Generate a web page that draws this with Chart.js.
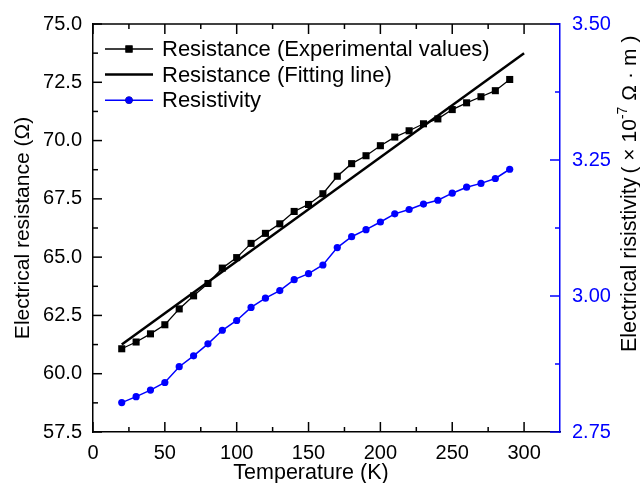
<!DOCTYPE html>
<html>
<head>
<meta charset="utf-8">
<script src="https://cdn.jsdelivr.net/npm/chart.js@4.4.0/dist/chart.umd.min.js"></script>
<style>
  html, body { margin: 0; padding: 0; background: #fff; }
</style>
</head>
<body>
<canvas id="resChart" width="640" height="483"></canvas>
<script>
const temperatures = [20, 30, 40, 50, 60, 70, 80, 90, 100, 110, 120, 130, 140, 150,
    160, 170, 180, 190, 200, 210, 220, 230, 240, 250, 260, 270, 280, 290];
const resistance = [61.07, 61.36, 61.71, 62.10, 62.78, 63.34, 63.87, 64.53, 64.98, 65.59,
    66.02, 66.43, 66.96, 67.26, 67.72, 68.47, 69.01, 69.35, 69.78, 70.15,
    70.42, 70.72, 70.93, 71.33, 71.62, 71.88, 72.14, 72.62];
const resistivity = [2.804, 2.815, 2.827, 2.841, 2.870, 2.890, 2.912, 2.937, 2.955, 2.979,
    2.996, 3.010, 3.030, 3.041, 3.057, 3.089, 3.109, 3.122, 3.136, 3.151,
    3.159, 3.169, 3.176, 3.189, 3.200, 3.207, 3.216, 3.233];
const fitTemps = [20, 300];
const fitResistance = [61.25, 73.75];

const xTicks = [0, 50, 100, 150, 200, 250, 300];
const yTicks = [57.5, 60.0, 62.5, 65.0, 67.5, 70.0, 72.5, 75.0];
const y1Ticks = [2.75, 3.00, 3.25, 3.50];

const xTitle = "Temperature (K)";
const yTitle = "Electrical resistance (\u03a9)";
const y1Title = "Electrical risistivity ";
const y1Unit = ["(", "\u00d7", "1", "0", "-7", "\u03a9", "\u00b7", "m", ")"];

const FONT = "Arial, 'Liberation Sans', sans-serif";
const BLUE = "#0000ff";

Chart.defaults.color = "#000";
Chart.defaults.font.family = FONT;

const toPoints = (xs, ys) => xs.map((x, i) => ({ x: x, y: ys[i] }));
const setTicks = (list) => (scale) => { scale.ticks = list.map(v => ({ value: v })); };

// inward tick marks, top frame line, legend and the axis titles drawn by hand
const frame = {
    id: "frame",
    afterDraw(chart) {
        const { ctx, chartArea: a, scales } = chart;
        const sx = scales.x, sy = scales.y, sy1 = scales.y1;
        ctx.save();
        ctx.lineWidth = 1.5;

        const seg = (x1, y1, x2, y2, color) => {
            ctx.strokeStyle = color;
            ctx.beginPath();
            ctx.moveTo(x1, y1);
            ctx.lineTo(x2, y2);
            ctx.stroke();
        };
        const withMinor = (list, max) => {
            const step = list[1] - list[0];
            const out = [];
            list.forEach(v => {
                out.push([v, true]);
                if (v + step / 2 < max - 1e-9) out.push([v + step / 2, false]);
            });
            return out;
        };

        seg(a.left, a.top, a.right, a.top, "#000");

        withMinor(xTicks, sx.max).forEach(([v, major]) => {
            const px = sx.getPixelForValue(v);
            const len = major ? 10 : 5;
            seg(px, a.bottom, px, a.bottom - len, "#000");
            seg(px, a.top, px, a.top + len, "#000");
        });
        withMinor(yTicks, sy.max).forEach(([v, major]) => {
            const py = sy.getPixelForValue(v);
            seg(a.left, py, a.left + (major ? 9 : 5), py, "#000");
        });
        withMinor(y1Ticks, sy1.max).forEach(([v, major]) => {
            const py = sy1.getPixelForValue(v);
            seg(a.right, py, a.right - (major ? 10 : 5), py, BLUE);
        });

        // legend
        ctx.textBaseline = "middle";
        ctx.textAlign = "left";
        chart.data.datasets.forEach((ds, i) => {
            const yy = a.top + 25 + i * 25.6;
            const x0 = a.left + 12, x1 = x0 + 48;
            ctx.lineWidth = ds.borderWidth;
            seg(x0, yy, x1, yy, ds.borderColor);
            if (ds.pointRadius > 0) {
                Chart.helpers.drawPoint(ctx, {
                    pointStyle: ds.pointStyle, radius: ds.pointRadius, rotation: 0, borderWidth: 0
                }, (x0 + x1) / 2, yy);
                ctx.fillStyle = ds.pointBackgroundColor;
                ctx.fill();
            }
            ctx.fillStyle = "#000";
            ctx.font = "22px " + FONT;
            ctx.fillText(ds.label, x1 + 9, yy + 1);
        });

        // x title, a little left of the axis centre as in the original
        ctx.fillStyle = "#000";
        ctx.textAlign = "center";
        ctx.font = "21.5px " + FONT;
        ctx.fillText(xTitle, 311, 473);

        // right axis title, reading bottom to top, unit spread out wide
        ctx.textAlign = "left";
        ctx.translate(630, 352);
        ctx.rotate(-Math.PI / 2);
        ctx.font = "21.5px " + FONT;
        ctx.fillText(y1Title, 0, 0);
        let t = ctx.measureText(y1Title).width - 2;
        const unitLen = 150;
        const fonts = y1Unit.map(c => c === "-7" ? "14px " + FONT : "21px " + FONT);
        let natural = 0;
        y1Unit.forEach((c, i) => { ctx.font = fonts[i]; natural += ctx.measureText(c).width; });
        const gap = (unitLen - natural) / (y1Unit.length - 1);
        y1Unit.forEach((c, i) => {
            ctx.font = fonts[i];
            const dy = c === "-7" ? -7 : 0;
            ctx.fillText(c, t, dy);
            t += ctx.measureText(c).width + (c === "1" || c === "0" ? 0 : gap);
        });
        ctx.restore();
    }
};

new Chart(document.getElementById("resChart"), {
    type: "line",
    data: {
        datasets: [
            {
                label: "Resistance (Experimental values)",
                data: toPoints(temperatures, resistance),
                yAxisID: "y",
                borderColor: "#000",
                borderWidth: 1.3,
                pointStyle: "rect",
                pointRadius: 5,
                pointBackgroundColor: "#000",
                pointBorderWidth: 0
            },
            {
                label: "Resistance (Fitting line)",
                data: toPoints(fitTemps, fitResistance),
                yAxisID: "y",
                borderColor: "#000",
                borderWidth: 2.5,
                pointRadius: 0
            },
            {
                label: "Resistivity",
                data: toPoints(temperatures, resistivity),
                yAxisID: "y1",
                borderColor: BLUE,
                borderWidth: 1.5,
                pointStyle: "circle",
                pointRadius: 3.6,
                pointBackgroundColor: BLUE,
                pointBorderWidth: 0
            }
        ]
    },
    options: {
        responsive: false,
        animation: false,
        layout: { padding: { top: 22, left: 0, right: 0, bottom: 0 } },
        plugins: {
            legend: { display: false },
            tooltip: { enabled: false }
        },
        scales: {
            x: {
                type: "linear",
                min: 0,
                max: 325,
                grid: { display: false, drawTicks: false },
                border: { display: true, color: "#000", width: 1.5 },
                afterBuildTicks: setTicks(xTicks),
                afterFit: (s) => { s.height = 51; },
                ticks: { padding: 9, font: { size: 20 }, callback: (v) => String(v) }
            },
            y: {
                position: "left",
                min: 57.5,
                max: 75,
                grid: { display: false, drawTicks: false },
                border: { display: true, color: "#000", width: 1.5 },
                afterBuildTicks: setTicks(yTicks),
                afterFit: (s) => { s.width = 93; },
                ticks: { padding: 11, font: { size: 20 }, callback: (v) => v.toFixed(1) },
                title: {
                    display: true,
                    text: yTitle,
                    font: { size: 21, lineHeight: 1 },
                    padding: { top: 13, bottom: 0 }
                }
            },
            y1: {
                position: "right",
                min: 2.75,
                max: 3.5,
                grid: { display: false, drawTicks: false },
                border: { display: true, color: BLUE, width: 1.5 },
                afterBuildTicks: setTicks(y1Ticks),
                afterFit: (s) => { s.width = 80; },
                ticks: { padding: 12, color: BLUE, font: { size: 20 }, callback: (v) => v.toFixed(2) }
            }
        }
    },
    plugins: [frame]
});
</script>
</body>
</html>
